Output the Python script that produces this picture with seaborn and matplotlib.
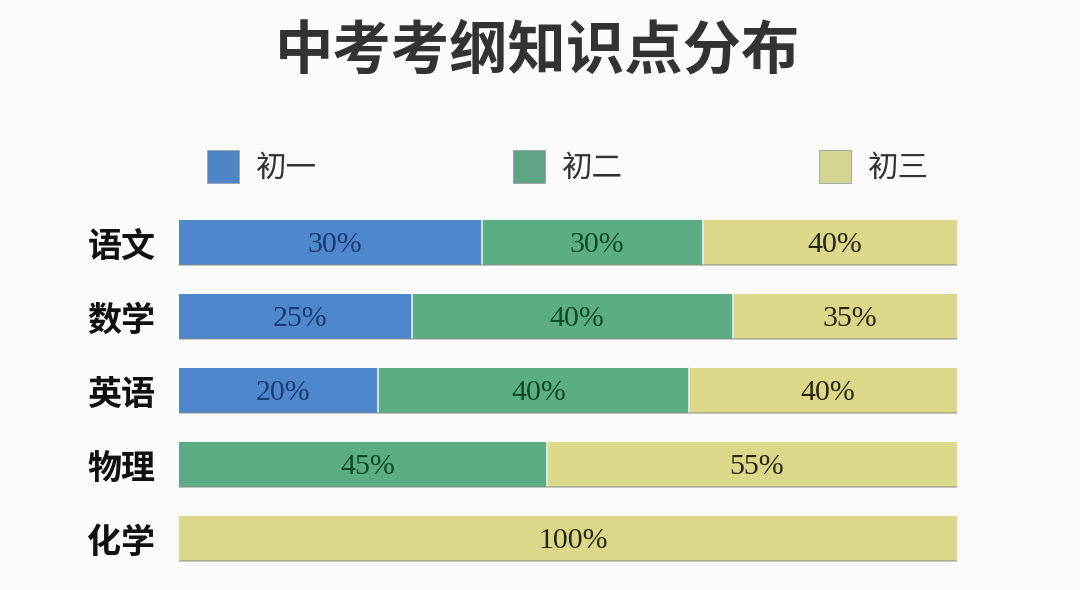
import matplotlib
matplotlib.use("Agg")
import matplotlib.pyplot as plt
import seaborn as sns
import pandas as pd
import numpy as np
from matplotlib.patches import Patch

# ---- data ----
subjects = ["语文", "数学", "英语", "物理", "化学"]
series_names = ["初一", "初二", "初三"]
# segment lengths as drawn in the picture (share of the full bar, %)
grade1_share = [38.9, 29.9, 25.6, 0.0, 0.0]
grade2_share = [28.5, 41.3, 40.0, 47.3, 0.0]
grade3_share = [32.6, 28.8, 34.4, 52.7, 100.0]
# printed labels
grade1_label = ["30%", "25%", "20%", "", ""]
grade2_label = ["30%", "40%", "40%", "45%", ""]
grade3_label = ["40%", "35%", "40%", "55%", "100%"]

title = "中考考纲知识点分布"

bar_colors = ["#4e87cb", "#5cad84", "#dcd88a"]
legend_colors = ["#4f85c6", "#5fa585", "#d3d690"]
text_colors = ["#1c3a78", "#0e4a2a", "#2a2616"]

sns.set_theme(style="white")
plt.rcParams["font.family"] = ["Noto Sans CJK SC", "DejaVu Sans"]

bg = "#fbfbfb"
fig = plt.figure(figsize=(10.8, 5.9), dpi=100, facecolor=bg)
ax = fig.add_axes([179 / 1080, 1 - 575.5 / 590, 778 / 1080, 370 / 590])
ax.set_facecolor(bg)

df = pd.DataFrame({
    "subject": subjects,
    "g1": grade1_share,
    "g2": grade2_share,
    "g3": grade3_share,
})
df["c1"] = df["g1"]
df["c2"] = df["g1"] + df["g2"]
df["c3"] = df["g1"] + df["g2"] + df["g3"]

bw = 0.61
sns.barplot(data=df, x="c3", y="subject", orient="h", color=bar_colors[2],
            width=bw, ax=ax, saturation=1, edgecolor="none", label=series_names[2])
sns.barplot(data=df, x="c2", y="subject", orient="h", color=bar_colors[1],
            width=bw, ax=ax, saturation=1, edgecolor="none", label=series_names[1])
sns.barplot(data=df, x="c1", y="subject", orient="h", color=bar_colors[0],
            width=bw, ax=ax, saturation=1, edgecolor="none", label=series_names[0])

# thin separators / bottom shading
for i in range(len(subjects)):
    for b in (df["c1"][i], df["c2"][i]):
        if 0 < b < 100:
            ax.plot([b, b], [i - bw / 2, i + bw / 2], color="#e8f0ee", lw=1.2, zorder=5)
    ax.plot([0, 100], [i + bw / 2, i + bw / 2], color="#8a8f88", lw=1.2, zorder=5, alpha=0.6)

# segment labels
label_font = dict(family="Liberation Serif", fontsize=21.5, ha="center", va="center", zorder=6)
for i in range(len(subjects)):
    lefts = [0, df["c1"][i], df["c2"][i]]
    widths = [df["g1"][i], df["g2"][i], df["g3"][i]]
    labels = [grade1_label[i], grade2_label[i], grade3_label[i]]
    for k in range(3):
        if widths[k] > 0 and labels[k]:
            ax.text(lefts[k] + widths[k] / 2 + 0.6, i + 0.03, labels[k], color=text_colors[k], **label_font)

ax.set_xlim(0, 100)
ax.set_ylim(len(subjects) - 0.5, -0.5)
ax.set_xlabel("")
ax.set_ylabel("")
ax.set_xticks([])
ax.tick_params(axis="y", length=0, pad=17)
for lab in ax.get_yticklabels():
    lab.set_fontsize(24.5)
    lab.set_fontweight("bold")
    lab.set_color("#111111")
for s in ax.spines.values():
    s.set_visible(False)
if ax.get_legend() is not None:
    ax.get_legend().remove()

# legend
handles = [Patch(facecolor=c, edgecolor="#9aa0a0", linewidth=0.6) for c in legend_colors]
leg = fig.legend(handles, series_names, loc="center left",
                 bbox_to_anchor=(207 / 1080, 1 - 167 / 590), ncol=3, frameon=False,
                 fontsize=22, handlelength=1.05, handleheight=1.3, handletextpad=0.55,
                 columnspacing=6.42, borderpad=0, borderaxespad=0)
for t in leg.get_texts():
    t.set_color("#333333")

fig.text(0.498, 1 - 51 / 590, title, ha="center", va="center", fontsize=42,
         fontweight="bold", color="#333333")

fig.savefig("out.png", dpi=100, facecolor=bg)
